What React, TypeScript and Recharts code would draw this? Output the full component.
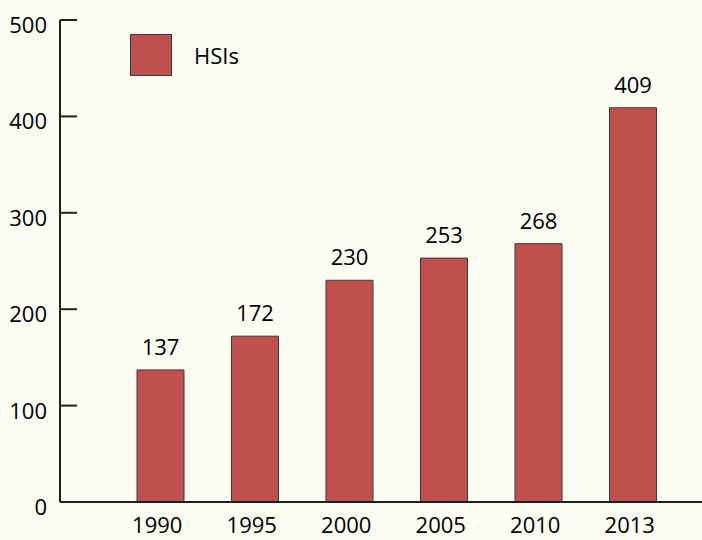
import React from "react";
import { BarChart, Bar, XAxis, YAxis, LabelList } from "recharts";

const years = ["1990", "1995", "2000", "2005", "2010", "2013"];
const hsis = [137, 172, 230, 253, 268, 409];
const yTicks = [0, 100, 200, 300, 400, 500];
const seriesName = "HSIs";

const data = years.map((y, i) => ({ year: y, value: hsis[i] }));

const FONT = "'Open Sans', sans-serif";
const BAR = "#c0504d";
const INK = "#231f20";

const YTick = (props: any) => {
  const { x, y, payload } = props;
  return (
    <g>
      <line x1={x} x2={x + 17} y1={y} y2={y} stroke={INK} strokeWidth={2} />
      <text x={x - 13} y={y + 13} textAnchor="end" fontSize={22} fontFamily={FONT} fill="#000">
        {payload.value}
      </text>
    </g>
  );
};

const XTick = (props: any) => {
  const { x, payload } = props;
  return (
    <text x={x - 3} y={533} textAnchor="middle" fontSize={22} fontFamily={FONT} fill="#000">
      {payload.value}
    </text>
  );
};

const LegendOverlay = () => (
  <div style={{ position: "absolute", left: 0, top: 0, width: 300, height: 90, pointerEvents: "none" }}>
    <div
      style={{
        position: "absolute",
        left: 130,
        top: 34,
        width: 40,
        height: 40,
        background: BAR,
        border: "1px solid #3b3b3b",
      }}
    />
    <div
      style={{
        position: "absolute",
        left: 194,
        top: 42,
        fontSize: 22,
        fontFamily: FONT,
        lineHeight: "26px",
        color: "#000",
      }}
    >
      {seriesName}
    </div>
  </div>
);

export default function App() {
  return (
    <div
      style={{
        position: "absolute",
        left: 0,
        top: 0,
        width: 702,
        height: 540,
        background: "#fbfcf2",
      }}
    >
      <BarChart
        width={702}
        height={540}
        data={data}
        margin={{ top: 20, right: 0, bottom: 0, left: 0 }}
        barSize={47}
      >
        <XAxis
          dataKey="year"
          height={38}
          tickLine={false}
          tickSize={0}
          axisLine={{ stroke: INK, strokeWidth: 2 }}
          padding={{ left: 53, right: 22 }}
          tick={<XTick />}
          interval={0}
        />
        <YAxis
          width={60}
          domain={[0, 500]}
          ticks={yTicks}
          tickLine={false}
          tickSize={0}
          tickMargin={0}
          axisLine={{ stroke: INK, strokeWidth: 2 }}
          tick={<YTick />}
          interval={0}
        />
        <Bar
          dataKey="value"
          name={seriesName}
          fill={BAR}
          stroke="#3b3b3b"
          strokeWidth={1}
          isAnimationActive={false}
        >
          <LabelList
            dataKey="value"
            position="top"
            offset={15}
            fontSize={22}
            fontFamily={FONT}
            fill="#000"
          />
        </Bar>
      </BarChart>
      <LegendOverlay />
    </div>
  );
}
